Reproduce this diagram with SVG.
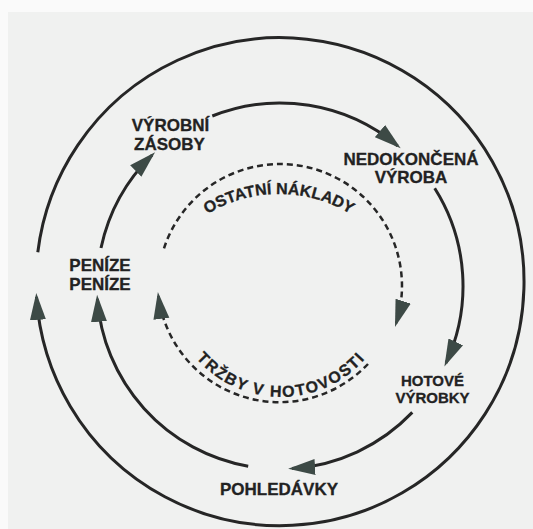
<svg xmlns="http://www.w3.org/2000/svg" width="533" height="529" viewBox="0 0 533 529">
  <style>
    .bg { fill: #f0f1f0; }
    .edge { fill: #fafafa; }
    .arc { fill: none; stroke: #262626; stroke-width: 3; }
    .dash { fill: none; stroke: #262626; stroke-width: 2.5; stroke-dasharray: 6 4; }
    .lbl { font-family: "Liberation Sans", Arial, sans-serif; font-weight: bold; font-size: 17px; fill: #222; stroke: #222; stroke-width: 0.3; text-anchor: middle; }
    .sm { font-size: 15px; }
    .curv { font-family: "Liberation Sans", Arial, sans-serif; font-weight: bold; font-size: 16px; fill: #222; stroke: #222; stroke-width: 0.3; }
  </style>
  <defs>
    <marker id="ah" markerUnits="userSpaceOnUse" markerWidth="30" markerHeight="18" viewBox="0 0 30 18" refX="23" refY="9" orient="auto">
      <path d="M0,1 L27,9 L0,17 Z" fill="#3d4a46"/>
    </marker>
    <path id="topArc" d="M142,331 A137,137 0 0 1 416,331"/>
    <path id="botArc" d="M169,285 A112,112 0 0 0 393,285"/>
  </defs>

  <rect class="bg" x="0" y="0" width="533" height="529"/>
  <rect class="edge" x="0" y="0" width="533" height="12"/>
  <rect class="edge" x="0" y="0" width="8" height="529"/>

  <g id="connectors">
    <!-- outer circle -->
    <path class="arc" d="M37.8,252.3 A244,244 0 1 1 36.5,296.9" marker-end="url(#ah)"/>
    <!-- inner circle arcs -->
    <path class="arc" d="M248.2,466.2 A183,183 0 0 1 97.4,298.8" marker-end="url(#ah)"/>
    <path class="arc" d="M101,248 A183,183 0 0 1 152.2,155" marker-end="url(#ah)"/>
    <path class="arc" d="M212.3,116 A183,183 0 0 1 397.6,145.8" marker-end="url(#ah)"/>
    <path class="arc" d="M434.7,188.2 A183,183 0 0 1 446.1,362.8" marker-end="url(#ah)"/>
    <path class="arc" d="M412.3,412.4 A183,183 0 0 1 292.1,468.6" marker-end="url(#ah)"/>
    <!-- dashed inner circle -->
    <path class="dash" d="M164,248.3 A122,122 0 0 1 280,164 A122,122 0 0 1 396.2,323.1" marker-end="url(#ah)"/>
    <path class="dash" d="M368,364 A122,122 0 0 1 158.4,296" marker-end="url(#ah)"/>
  </g>

  <g id="vyrobni-zasoby">
    <text class="lbl" x="170.5" y="131">VÝROBNÍ</text>
    <text class="lbl" x="169.5" y="149.5">ZÁSOBY</text>
  </g>
  <g id="nedokoncena-vyroba">
    <text class="lbl" x="411" y="165">NEDOKONČENÁ</text>
    <text class="lbl" x="411" y="183">VÝROBA</text>
  </g>
  <g id="penize">
    <text class="lbl" x="100" y="271">PENÍZE</text>
    <text class="lbl" x="100" y="290">PENÍZE</text>
  </g>
  <g id="hotove-vyrobky">
    <text class="lbl sm" x="432.5" y="386">HOTOVÉ</text>
    <text class="lbl sm" x="432.5" y="402.5">VÝROBKY</text>
  </g>
  <g id="pohledavky">
    <text class="lbl" x="279" y="495">POHLEDÁVKY</text>
  </g>
  <g id="ostatni-naklady">
    <text class="curv"><textPath href="#topArc" startOffset="50%" text-anchor="middle">OSTATNÍ NÁKLADY</textPath></text>
  </g>
  <g id="trzby">
    <text class="curv" style="letter-spacing:1.5px"><textPath href="#botArc" startOffset="50%" text-anchor="middle">TRŽBY V HOTOVOSTI</textPath></text>
  </g>
</svg>
